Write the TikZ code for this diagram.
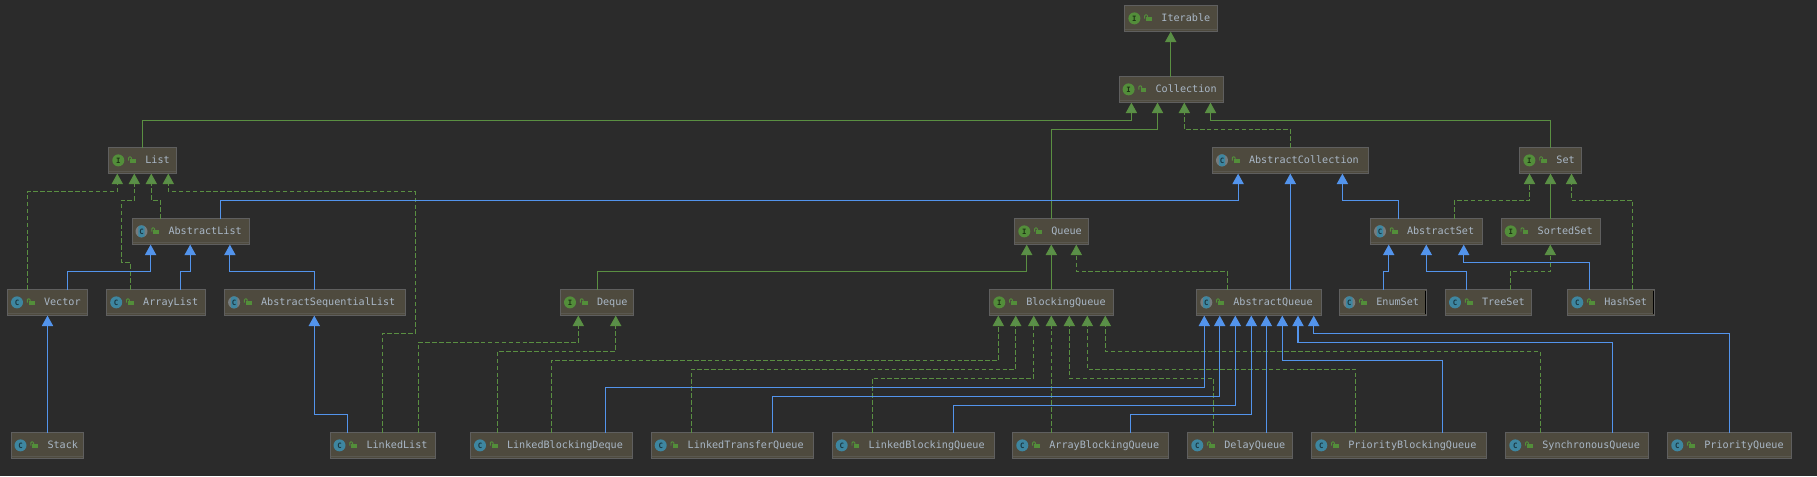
\documentclass[tikz,border=0pt]{standalone}
\usepackage{fontspec}
\usetikzlibrary{arrows.meta,calc}
\newfontfamily\boxfont{DejaVu Sans Mono}
\definecolor{bgc}{HTML}{2B2B2B}
\definecolor{boxc}{HTML}{4E4A3E}
\definecolor{edgec}{HTML}{5F5F5F}
\definecolor{stripc}{HTML}{5A5850}
\definecolor{txtc}{HTML}{A9B7C6}
\definecolor{grn}{HTML}{5A8F42}
\definecolor{grntip}{HTML}{5A8F4A}
\definecolor{blu}{HTML}{5394EC}
\definecolor{iconi}{HTML}{538E3A}
\definecolor{iconc}{HTML}{3E86A0}
\definecolor{icona}{HTML}{767C7E}
\newdimen\pxu \pxu=0.75pt
\tikzset{
  x=0.75pt,y=-0.75pt,
  clsbox/.style={draw=edgec,line width=0.75pt,fill=boxc,anchor=north west,inner xsep=0pt,inner ysep=0pt,outer sep=0pt,
    minimum height=19.3pt,text height=5.7pt,text depth=1.5pt,text=txtc,font=\boxfont\fontsize{7.6pt}{9pt}\selectfont},
  iconbase/.style={circle,inner sep=0pt,minimum size=9pt,font=\boxfont\bfseries\fontsize{5.5pt}{6pt}\selectfont},
  iconI/.style={iconbase,fill=iconi,text=black!65!iconi},
  iconC/.style={iconbase,fill=iconc,text=black!60!iconc},
  iconA/.style={iconbase,fill=icona,text=black!60!iconc,path picture={
    \fill[iconc,rounded corners=1pt] ($(path picture bounding box.center)+(-3.2,-6)$) rectangle ($(path picture bounding box.center)+(3.2,6)$);}},
  gsolid/.style={draw=grn,line width=0.8pt,-{Triangle[length=7.8pt,width=8.4pt,fill=grntip]},shorten >=0.3pt},
  gdash/.style={gsolid,dash pattern=on 3.4pt off 1.8pt},
  bsolid/.style={draw=blu,line width=0.85pt,-{Triangle[length=7.8pt,width=8.4pt,fill=blu]},shorten >=0.3pt},
}
% name, left, right, top, text, kind
\newcommand\cls[6]{%
  \pgfmathsetlengthmacro\boxw{(#3-#2-1)*\pxu}%
  \node[clsbox,minimum width=\boxw] (#1) at (#2+.5,#4+.5) {\makebox[\boxw][l]{\hspace*{36.5\pxu}#5}};
  \draw[stripc,line width=0.75pt] ($(#1.south west)+(0.5,-2)$) -- ($(#1.south east)+(-0.5,-2)$);
  \node[icon#6] (#1-icon) at ($(#1.west)+(9.5,0)$) {\ifx#6I I\else C\fi};
  \begin{scope}[shift={(#1.west)}]
    \fill[iconi] (21.4,-1.6) rectangle (27,2.8);
    \draw[iconi,line width=0.7pt,rounded corners=0.8pt] (19.8,0.3) -- (19.8,-3.6) -- (22.6,-3.6) -- (22.6,-1.6);
  \end{scope}
}
% style, source, source x, target, target x, bend y
\newcommand\conn[6]{\draw[#1] (#2.north -| #3,0) |- (#5,#6) -- (#4.south -| #5,0);}
\newcommand\sconn[4]{\draw[#1] (#2.north -| #4,0) -- (#3.south -| #4,0);}
\begin{document}
\begin{tikzpicture}
\fill[bgc] (0,0) rectangle (1817,476);
\useasboundingbox (0,0) rectangle (1817,476);
\cls{Iterable}{1124.4}{1217.5}{5}{Iterable}{I}
\cls{Collection}{1118.6}{1223.7}{76}{Collection}{I}
\cls{List}{108.3}{176.7}{147}{List}{I}
\cls{AbstractCollection}{1212}{1368.5}{147}{AbstractCollection}{A}
\cls{Set}{1519.4}{1581.6}{147}{Set}{I}
\cls{AbstractList}{131.5}{249.8}{218}{AbstractList}{A}
\cls{Queue}{1014.3}{1088.7}{218}{Queue}{I}
\cls{AbstractSet}{1370}{1482.7}{218}{AbstractSet}{A}
\cls{SortedSet}{1500.7}{1600.7}{218}{SortedSet}{I}
\cls{Vector}{7}{87.5}{289}{Vector}{C}
\cls{ArrayList}{106.2}{205.8}{289}{ArrayList}{C}
\cls{AbstractSequentialList}{224.1}{405.8}{289}{AbstractSequentialList}{A}
\cls{Deque}{560}{634.3}{289}{Deque}{I}
\cls{BlockingQueue}{989.3}{1114.3}{289}{BlockingQueue}{I}
\cls{AbstractQueue}{1196.3}{1321.7}{289}{AbstractQueue}{A}
\cls{EnumSet}{1339.3}{1426.7}{289}{EnumSet}{A}
\cls{TreeSet}{1445}{1532}{289}{TreeSet}{C}
\cls{HashSet}{1567.3}{1654.7}{289}{HashSet}{C}
\cls{Stack}{10.5}{84.4}{432}{Stack}{C}
\cls{LinkedList}{329.5}{435.7}{432}{LinkedList}{C}
\cls{LinkedBlockingDeque}{470}{632.7}{432}{LinkedBlockingDeque}{C}
\cls{LinkedTransferQueue}{650.7}{813.7}{432}{LinkedTransferQueue}{C}
\cls{LinkedBlockingQueue}{831.7}{994.7}{432}{LinkedBlockingQueue}{C}
\cls{ArrayBlockingQueue}{1012.3}{1169}{432}{ArrayBlockingQueue}{C}
\cls{DelayQueue}{1187.3}{1293.3}{432}{DelayQueue}{C}
\cls{PriorityBlockingQueue}{1311.3}{1486.7}{432}{PriorityBlockingQueue}{C}
\cls{SynchronousQueue}{1505.3}{1648.7}{432}{SynchronousQueue}{C}
\cls{PriorityQueue}{1667.3}{1791.7}{432}{PriorityQueue}{C}
% dark right edges
\draw[black,line width=0.75pt] ($(EnumSet.north east)+(-1,1)$) -- ($(EnumSet.south east)+(-1,-1)$);
\draw[black,line width=0.75pt] ($(HashSet.north east)+(-1,1)$) -- ($(HashSet.south east)+(-1,-1)$);
% top
\sconn{gsolid}{Collection}{Iterable}{1170.7}
\conn{gsolid}{List}{142.4}{Collection}{1131.4}{120.3}
\conn{gsolid}{Queue}{1051.3}{Collection}{1157.5}{129.3}
\conn{gdash}{AbstractCollection}{1290.3}{Collection}{1184.3}{129.3}
\conn{gsolid}{Set}{1550.5}{Collection}{1210.5}{120.3}
% List family
\draw[gdash] (Vector.north -| 27.2,0) |- (117.3,191.7) -- (List.south -| 117.3,0);
\draw[gdash] (ArrayList.north -| 130.3,0) |- (121.4,262.3) |- (134.3,200.3) -- (List.south -| 134.3,0);
\conn{gdash}{AbstractList}{160.3}{List}{151.3}{200.3}
\draw[gdash] (LinkedList.north -| 382.4,0) |- (415.5,333.3) |- (168.3,191.7) -- (List.south -| 168.3,0);
\conn{bsolid}{AbstractList}{220.6}{AbstractCollection}{1238.1}{200.3}
\conn{bsolid}{Vector}{67.3}{AbstractList}{150.6}{271.3}
\conn{bsolid}{ArrayList}{180.5}{AbstractList}{190.2}{271.3}
\conn{bsolid}{AbstractSequentialList}{314.3}{AbstractList}{229.9}{271.3}
\sconn{bsolid}{Stack}{Vector}{47.5}
\conn{bsolid}{LinkedList}{347.4}{AbstractSequentialList}{314.3}{414.3}
% Deque
\conn{gsolid}{Deque}{597.3}{Queue}{1026.7}{271.3}
\conn{gdash}{LinkedList}{418.6}{Deque}{578.3}{342.3}
\conn{gdash}{LinkedBlockingDeque}{497.3}{Deque}{615.7}{351.3}
% Queue
\sconn{gsolid}{BlockingQueue}{Queue}{1051.3}
\conn{gdash}{AbstractQueue}{1227.3}{Queue}{1076.3}{271.3}
% BlockingQueue
\conn{gdash}{LinkedBlockingDeque}{551.3}{BlockingQueue}{998.3}{360.3}
\conn{gdash}{LinkedTransferQueue}{691.3}{BlockingQueue}{1015.7}{369.3}
\conn{gdash}{LinkedBlockingQueue}{872.3}{BlockingQueue}{1033.7}{378.3}
\sconn{gdash}{ArrayBlockingQueue}{BlockingQueue}{1051.3}
\conn{gdash}{DelayQueue}{1213.3}{BlockingQueue}{1069.3}{378.3}
\conn{gdash}{PriorityBlockingQueue}{1355.7}{BlockingQueue}{1087.3}{369.3}
\conn{gdash}{SynchronousQueue}{1540.3}{BlockingQueue}{1105.3}{351.3}
% AbstractQueue
\sconn{bsolid}{AbstractQueue}{AbstractCollection}{1290.3}
\conn{bsolid}{LinkedBlockingDeque}{605.3}{AbstractQueue}{1204.3}{387.3}
\conn{bsolid}{LinkedTransferQueue}{772.3}{AbstractQueue}{1219.7}{396.3}
\conn{bsolid}{LinkedBlockingQueue}{953.3}{AbstractQueue}{1235.3}{405.3}
\conn{bsolid}{ArrayBlockingQueue}{1130.3}{AbstractQueue}{1251.3}{414.3}
\sconn{bsolid}{DelayQueue}{AbstractQueue}{1266.3}
\conn{bsolid}{PriorityBlockingQueue}{1442.3}{AbstractQueue}{1282.3}{360.3}
\conn{bsolid}{SynchronousQueue}{1612.3}{AbstractQueue}{1298}{342.3}
\conn{bsolid}{PriorityQueue}{1729.3}{AbstractQueue}{1313.7}{333.3}
% Set family
\conn{bsolid}{AbstractSet}{1398.8}{AbstractCollection}{1342.4}{200.3}
\conn{gdash}{AbstractSet}{1454.4}{Set}{1529.5}{200.3}
\sconn{gsolid}{SortedSet}{Set}{1550.5}
\conn{gdash}{HashSet}{1632.5}{Set}{1571.5}{200.3}
\conn{bsolid}{EnumSet}{1383.3}{AbstractSet}{1388.7}{271.3}
\conn{bsolid}{TreeSet}{1466.3}{AbstractSet}{1426.3}{271.3}
\conn{bsolid}{HashSet}{1589.3}{AbstractSet}{1463.7}{262.3}
\conn{gdash}{TreeSet}{1510.3}{SortedSet}{1550.3}{271.3}
\end{tikzpicture}
\end{document}
